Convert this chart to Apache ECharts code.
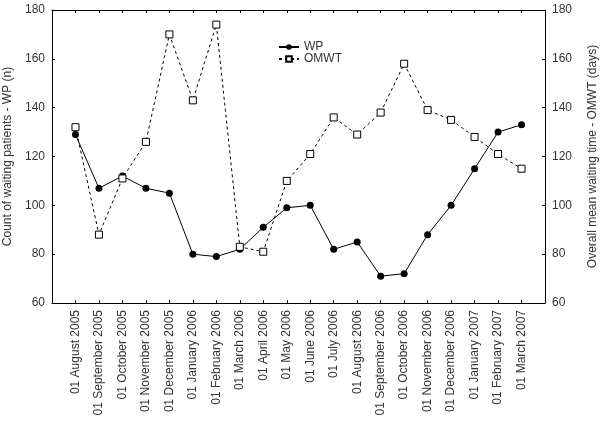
<!DOCTYPE html>
<html>
<head>
<meta charset="utf-8">
<script src="https://cdn.jsdelivr.net/npm/echarts@6/dist/echarts.min.js"></script>
<style>html,body{margin:0;padding:0;background:#fff}#c{width:600px;height:423px}</style>
</head>
<body>
<div id="c"></div>
<script>
var categories = ['01 August 2005','01 September 2005','01 October 2005','01 November 2005','01 December 2005','01 January 2006','01 February 2006','01 March 2006','01 April 2006','01 May 2006','01 June 2006','01 July 2006','01 August 2006','01 September 2006','01 October 2006','01 November 2006','01 December 2006','01 January 2007','01 February 2007','01 March 2007'];
var wpValues = [129,107,112,107,105,80,79,82,91,99,100,82,85,71,72,88,100,115,130,133];
var omwtValues = [132,88,111,126,170,143,174,83,81,110,121,136,129,138,158,139,135,128,121,115];
var yTicks = [60,80,100,120,140,160,180];

var FONT = 'Liberation Sans, Arial, sans-serif';
var TXT = '#333';
function pairs(arr){ return arr.map(function(v,i){ return [i,v]; }); }

var chart = echarts.init(document.getElementById('c'));
var yBase = {
  type:'value', min:yTicks[0], max:yTicks[yTicks.length-1], interval:20,
  splitLine:{show:false},
  axisLine:{show:true, onZero:false, lineStyle:{color:'#000', width:1}},
  axisTick:{show:true, inside:true, length:3, lineStyle:{color:'#000'}},
  axisLabel:{color:TXT, fontSize:12, fontFamily:FONT, margin:7},
  nameLocation:'middle', nameRotate:90,
  nameTextStyle:{color:TXT, fontSize:12, fontFamily:FONT}
};
chart.setOption({
  animation:false,
  backgroundColor:'#fff',
  grid:{left:52, right:55, top:10, bottom:120, containLabel:false, outerBoundsMode:'none'},
  legend:{
    orient:'vertical', left:273, top:36, itemWidth:20, itemHeight:7, itemGap:0,
    textStyle:{color:TXT, fontSize:12, fontFamily:FONT, lineHeight:11},
    data:['WP','OMWT']
  },
  xAxis:[{
    type:'value', min:-1, max:categories.length, interval:1, position:'bottom',
    splitLine:{show:false},
    axisLine:{show:true, onZero:false, lineStyle:{color:'#000'}},
    axisTick:{show:true, inside:true, length:3, lineStyle:{color:'#000'}},
    axisLabel:{rotate:90, color:TXT, fontSize:12, fontFamily:FONT, margin:7,
      showMinLabel:false, showMaxLabel:false,
      formatter:function(v){ return categories[v] || ''; }}
  },{
    type:'value', min:-1, max:categories.length, interval:1, position:'top',
    splitLine:{show:false},
    axisLine:{show:true, onZero:false, lineStyle:{color:'#000'}},
    axisTick:{show:true, inside:true, length:3, lineStyle:{color:'#000'}},
    axisLabel:{show:false}
  }],
  yAxis:[
    Object.assign({}, yBase, {position:'left', name:'Count of waiting patients - WP (n)', nameGap:37}),
    Object.assign({}, yBase, {position:'right', name:'Overall mean waiting time - OMWT (days)', nameGap:42})
  ],
  series:[{
    name:'WP', type:'line', xAxisIndex:0, yAxisIndex:0,
    data:pairs(wpValues),
    symbol:'circle', symbolSize:7,
    lineStyle:{color:'#000', width:1},
    itemStyle:{color:'#000', borderColor:'#000', borderWidth:0}
  },{
    name:'OMWT', type:'line', xAxisIndex:0, yAxisIndex:1,
    data:pairs(omwtValues),
    symbol:'rect', symbolSize:7,
    lineStyle:{color:'#000', width:1, type:[3,3]},
    itemStyle:{color:'#fff', borderColor:'#000', borderWidth:1}
  }]
});
</script>
</body>
</html>
